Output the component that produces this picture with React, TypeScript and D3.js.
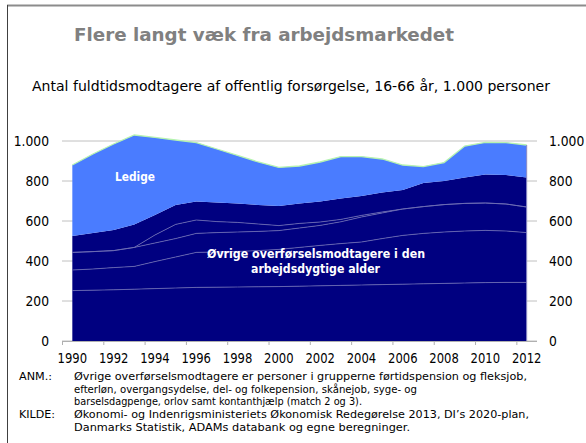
import React from "react";
import * as d3 from "d3";

// årstal på x-aksen
const years = [
  1990, 1991, 1992, 1993, 1994, 1995, 1996, 1997, 1998, 1999, 2000, 2001,
  2002, 2003, 2004, 2005, 2006, 2007, 2008, 2009, 2010, 2011, 2012,
];

// stablede serier, 1.000 personer
const gruppe1 = [252, 254, 256, 259, 262, 265, 268, 269, 270, 271, 272, 274, 276, 278, 280, 282, 284, 286, 288, 290, 292, 293, 293];
const gruppe2 = [103, 106, 111, 114, 135, 155, 175, 176, 178, 181, 186, 194, 202, 209, 215, 230, 244, 252, 257, 260, 261, 257, 249];
const gruppe3 = [88, 87, 85, 95, 93, 92, 95, 97, 97, 96, 94, 97, 100, 109, 125, 128, 132, 134, 137, 138, 137, 135, 128];
const gruppe4 = [0, 0, 0, 0, 40, 71, 67, 55, 48, 37, 25, 23, 17, 12, 8, 5, 0, 0, 0, 0, 0, 0, 0];
const gruppe5 = [82, 93, 103, 115, 100, 97, 92, 95, 95, 95, 98, 100, 102, 105, 97, 97, 95, 118, 118, 130, 143, 145, 148];
const ledige = [355, 395, 430, 447, 388, 325, 295, 268, 240, 215, 193, 187, 198, 209, 197, 168, 125, 82, 92, 157, 160, 162, 162];

const keys = ["gruppe1", "gruppe2", "gruppe3", "gruppe4", "gruppe5", "ledige"];
const yTicks = [0, 200, 400, 600, 800, 1000];
const xLabels = [1990, 1992, 1994, 1996, 1998, 2000, 2002, 2004, 2006, 2008, 2010, 2012];

const noteLines = [
  "Øvrige overførselsmodtagere er personer i grupperne førtidspension og fleksjob,",
  "efterløn, overgangsydelse, del- og folkepension, skånejob, syge- og",
  "barselsdagpenge, orlov samt kontanthjælp (match 2 og 3).",
];
const sourceLines = [
  "Økonomi- og Indenrigsministeriets Økonomisk Redegørelse 2013, DI’s 2020-plan,",
  "Danmarks Statistik, ADAMs databank og egne beregninger.",
];

const W = 586;
const H = 443;
const font = "'DejaVu Sans', Verdana, sans-serif";
const navy = "#000080";
const lightBlue = "#4a7cff";

const da = d3.formatLocale({ decimal: ",", thousands: ".", grouping: [3], currency: ["", " kr."] });
const fmt = da.format(",d");

export default function App() {
  const x = d3.scaleBand<number>().domain(years).range([62, 537]);
  const cx = (yr: number) => (x(yr) as number) + x.bandwidth() / 2;
  const y = d3.scaleLinear().domain([0, 1000]).range([341, 141]);

  const rows = years.map((yr, i) => ({
    year: yr,
    gruppe1: gruppe1[i],
    gruppe2: gruppe2[i],
    gruppe3: gruppe3[i],
    gruppe4: gruppe4[i],
    gruppe5: gruppe5[i],
    ledige: ledige[i],
  }));
  const series = d3.stack<any>().keys(keys)(rows);

  const area = d3
    .area<any>()
    .x((d) => cx(d.data.year))
    .y0((d) => y(d[0]))
    .y1((d) => y(d[1]));
  const topLine = d3
    .line<any>()
    .x((d) => cx(d.data.year))
    .y((d) => y(d[1]));

  // ticks between categories, every second year
  const tickYears = years.filter((_, i) => i % 2 === 0);

  return (
    <svg
      width={W}
      height={H}
      style={{ position: "absolute", left: 0, top: 0, background: "#fff" }}
      fontFamily={font}
    >
      {/* frame */}
      <line x1={7} x2={W} y1={5.5} y2={5.5} stroke="#8c8c8c" strokeWidth={2} />
      <line x1={7.5} x2={7.5} y1={5} y2={H} stroke="#404040" strokeWidth={1} />

      <text
        x={264}
        y={41}
        textAnchor="middle"
        fontSize={18.5}
        fontWeight="bold"
        fill="#808080"
        textLength={380}
        lengthAdjust="spacingAndGlyphs"
      >
        Flere langt væk fra arbejdsmarkedet
      </text>
      <text
        x={291}
        y={90.5}
        textAnchor="middle"
        fontSize={14}
        fill="#000"
        textLength={518}
        lengthAdjust="spacingAndGlyphs"
      >
        Antal fuldtidsmodtagere af offentlig forsørgelse, 16-66 år, 1.000 personer
      </text>

      {/* gridlines (behind the areas) */}
      {yTicks.map((t) => (
        <line key={t} x1={62} x2={537} y1={y(t)} y2={y(t)} stroke="#c0c0c0" strokeWidth={1} />
      ))}

      {series.map((s) => (
        <path key={s.key} d={area(s) as string} fill={s.key === "ledige" ? lightBlue : navy} />
      ))}
      {series
        .filter((s) => s.key !== "gruppe5" && s.key !== "ledige")
        .map((s) => (
          <path key={s.key} d={topLine(s) as string} fill="none" stroke="#6c6cb4" strokeWidth={0.8} />
        ))}
      <path d={topLine(series[5]) as string} fill="none" stroke="#b6f3b0" strokeWidth={1.3} />
      <line x1={cx(2012)} x2={cx(2012)} y1={y(series[5][22][1])} y2={y(0)} stroke="#8a8ac4" strokeWidth={1} />

      {/* x axis */}
      <line x1={62} x2={537} y1={341.5} y2={341.5} stroke="#b0b0b0" strokeWidth={1} />
      {tickYears.map((yr) => (
        <line key={yr} x1={(x(yr) as number) + 0.5} x2={(x(yr) as number) + 0.5} y1={341} y2={345} stroke="#b0b0b0" />
      ))}
      {xLabels.map((yr) => (
        <g key={yr} transform={`translate(${cx(yr)},363) scale(0.86,1)`}>
          <text textAnchor="middle" fontSize={13.5} fill="#000">
            {yr}
          </text>
        </g>
      ))}

      {/* y labels both sides */}
      {yTicks.map((t) => (
        <g key={"l" + t}>
          <g transform={`translate(49,${y(t) + 5}) scale(0.88,1)`}>
            <text textAnchor="end" fontSize={14} fill="#000">
              {fmt(t)}
            </text>
          </g>
          <g transform={`translate(549,${y(t) + 5}) scale(0.88,1)`}>
            <text textAnchor="start" fontSize={14} fill="#000">
              {fmt(t)}
            </text>
          </g>
        </g>
      ))}

      {/* labels inside the chart */}
      <text x={135} y={181} textAnchor="middle" fontSize={13} fontWeight="bold" fill="#fff" textLength={40} lengthAdjust="spacingAndGlyphs">
        Ledige
      </text>
      <text x={316} y={258} textAnchor="middle" fontSize={12} fontWeight="bold" fill="#fff" textLength={218} lengthAdjust="spacingAndGlyphs">
        Øvrige overførselsmodtagere i den
      </text>
      <text x={315.5} y={272.5} textAnchor="middle" fontSize={12} fontWeight="bold" fill="#fff" textLength={129} lengthAdjust="spacingAndGlyphs">
        arbejdsdygtige alder
      </text>

      {/* notes */}
      <g fontSize={11} fill="#000">
        <text x={19} y={380} textLength={33} lengthAdjust="spacingAndGlyphs">ANM.:</text>
        {noteLines.map((l, i) => (
          <text key={i} x={74} y={380 + i * 12.5} textLength={[453, 343, 288][i]} lengthAdjust="spacingAndGlyphs">
            {l}
          </text>
        ))}
        <text x={19} y={418} textLength={36} lengthAdjust="spacingAndGlyphs">KILDE:</text>
        {sourceLines.map((l, i) => (
          <text key={i} x={74} y={418 + i * 12.5} textLength={[455, 336][i]} lengthAdjust="spacingAndGlyphs">
            {l}
          </text>
        ))}
      </g>
    </svg>
  );
}
